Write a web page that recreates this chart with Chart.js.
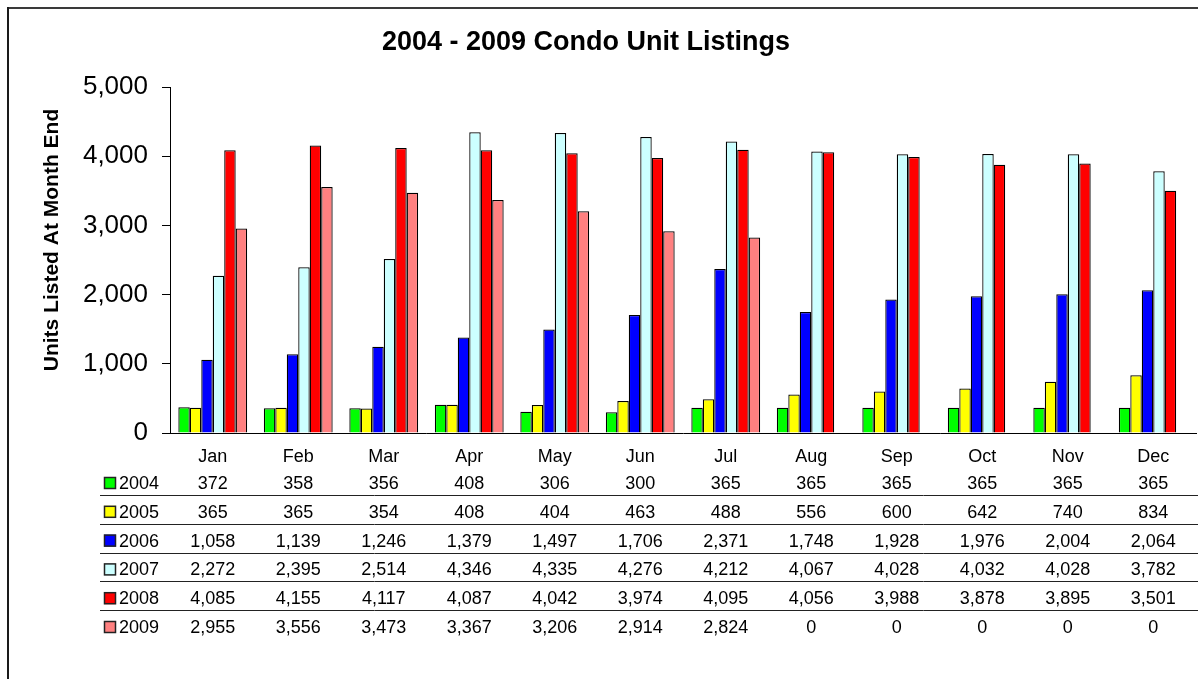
<!DOCTYPE html>
<html>
<head>
<meta charset="utf-8">
<title>2004 - 2009 Condo Unit Listings</title>
<script src="https://cdn.jsdelivr.net/npm/chart.js@4.4.0/dist/chart.umd.min.js"></script>
<style>
  html, body { margin: 0; padding: 0; background: #fff; }
  #wrap { position: relative; width: 1198px; height: 679px; }
</style>
</head>
<body>
<div id="wrap"><canvas id="listings" width="1198" height="679"></canvas></div>
<script>
'use strict';

/* ── Data ───────────────────────────────────────────── */
const months = ['Jan', 'Feb', 'Mar', 'Apr', 'May', 'Jun', 'Jul', 'Aug', 'Sep', 'Oct', 'Nov', 'Dec'];
const years  = ['2004', '2005', '2006', '2007', '2008', '2009'];

const units2004 = [372, 358, 356, 408, 306, 300, 365, 365, 365, 365, 365, 365];
const units2005 = [365, 365, 354, 408, 404, 463, 488, 556, 600, 642, 740, 834];
const units2006 = [1058, 1139, 1246, 1379, 1497, 1706, 2371, 1748, 1928, 1976, 2004, 2064];
const units2007 = [2272, 2395, 2514, 4346, 4335, 4276, 4212, 4067, 4028, 4032, 4028, 3782];
const units2008 = [4085, 4155, 4117, 4087, 4042, 3974, 4095, 4056, 3988, 3878, 3895, 3501];
const units2009 = [2955, 3556, 3473, 3367, 3206, 2914, 2824, 0, 0, 0, 0, 0];

const yTicks = [0, 1000, 2000, 3000, 4000, 5000];

const seriesValues = [units2004, units2005, units2006, units2007, units2008, units2009];
const seriesColors = ['#00FF00', '#FFFF00', '#0000FF', '#CCFFFF', '#FF0000', '#FF8080'];

const FONT = '"Liberation Sans", Arial, sans-serif';
const fmt = v => Number(v).toLocaleString('en-US');

/* ── Extras: frame, title, axis title, data table ──── */
const decorations = {
  id: 'decorations',
  beforeDraw(chart) {
    const ctx = chart.ctx;
    ctx.save();
    ctx.fillStyle = '#fff';
    ctx.fillRect(0, 0, chart.width, chart.height);
    ctx.fillStyle = '#3a3a3a';
    ctx.fillRect(7, 7, chart.width - 7, 2);
    ctx.fillStyle = '#1a1a1a';
    ctx.fillRect(7, 7, 2, chart.height - 7);
    ctx.restore();
  },
  afterDraw(chart) {
    const ctx = chart.ctx;
    const x = chart.scales.x;
    ctx.save();

    // chart title
    ctx.fillStyle = '#000';
    ctx.textAlign = 'center';
    ctx.textBaseline = 'middle';
    ctx.font = 'bold 27px ' + FONT;
    ctx.fillText('2004 - 2009 Condo Unit Listings', 586, 43);

    // value axis title
    ctx.save();
    ctx.translate(52, 240);
    ctx.rotate(-Math.PI / 2);
    ctx.font = 'bold 21px ' + FONT;
    ctx.fillText('Units Listed At Month End', 0, 0);
    ctx.restore();

    // data table under the axis
    const rowTop = chart.chartArea.bottom + 50;
    const rowStep = 28.8;
    ctx.font = '18px ' + FONT;
    years.forEach((yr, i) => {
      const cy = rowTop + i * rowStep;
      // legend key
      ctx.fillStyle = seriesColors[i];
      ctx.fillRect(104, cy - 6, 12, 12);
      ctx.strokeStyle = '#222';
      ctx.lineWidth = 1.5;
      ctx.strokeRect(104.5, cy - 5.5, 11, 11);
      ctx.fillStyle = '#000';
      ctx.textAlign = 'left';
      ctx.fillText(yr, 119, cy + 1);
      // values
      ctx.textAlign = 'center';
      seriesValues[i].forEach((v, j) => {
        ctx.fillText(fmt(v), x.getPixelForTick(j), cy + 1);
      });
      // row divider
      if (i < years.length - 1) {
        ctx.strokeStyle = '#222';
        ctx.lineWidth = 1;
        ctx.beginPath();
        ctx.moveTo(100, Math.round(cy + 12) + 0.5);
        ctx.lineTo(chart.width, Math.round(cy + 12) + 0.5);
        ctx.stroke();
      }
    });
    ctx.restore();
  }
};

/* ── Chart ──────────────────────────────────────────── */
new Chart(document.getElementById('listings'), {
  type: 'bar',
  data: {
    labels: months,
    datasets: years.map((yr, i) => ({
      label: yr,
      data: seriesValues[i],
      backgroundColor: seriesColors[i],
      borderColor: '#000',
      borderWidth: 1.25,
      borderSkipped: 'start',
      categoryPercentage: 0.805,
      barPercentage: 1
    }))
  },
  options: {
    responsive: false,
    animation: false,
    layout: { padding: { top: 87, right: 2, bottom: 0, left: 0 } },
    plugins: {
      legend: { display: false },
      tooltip: { enabled: false },
      title: { display: false }
    },
    scales: {
      x: {
        grid: { display: false },
        border: { display: true, color: '#000', width: 1 },
        ticks: {
          color: '#000',
          font: { family: FONT, size: 18 },
          padding: 5,
          maxRotation: 0,
          autoSkip: false
        },
        afterFit(scale) { scale.height = 246; }
      },
      y: {
        min: 0,
        max: 5000,
        afterBuildTicks(scale) { scale.ticks = yTicks.map(v => ({ value: v })); },
        grid: {
          display: true,
          drawOnChartArea: false,
          drawTicks: true,
          tickLength: 8,
          color: '#000'
        },
        border: { display: true, color: '#000', width: 1 },
        ticks: {
          color: '#000',
          font: { family: FONT, size: 26 },
          padding: 14,
          callback: v => fmt(v)
        },
        afterFit(scale) { scale.width = 170; }
      }
    }
  },
  plugins: [decorations]
});
</script>
</body>
</html>
